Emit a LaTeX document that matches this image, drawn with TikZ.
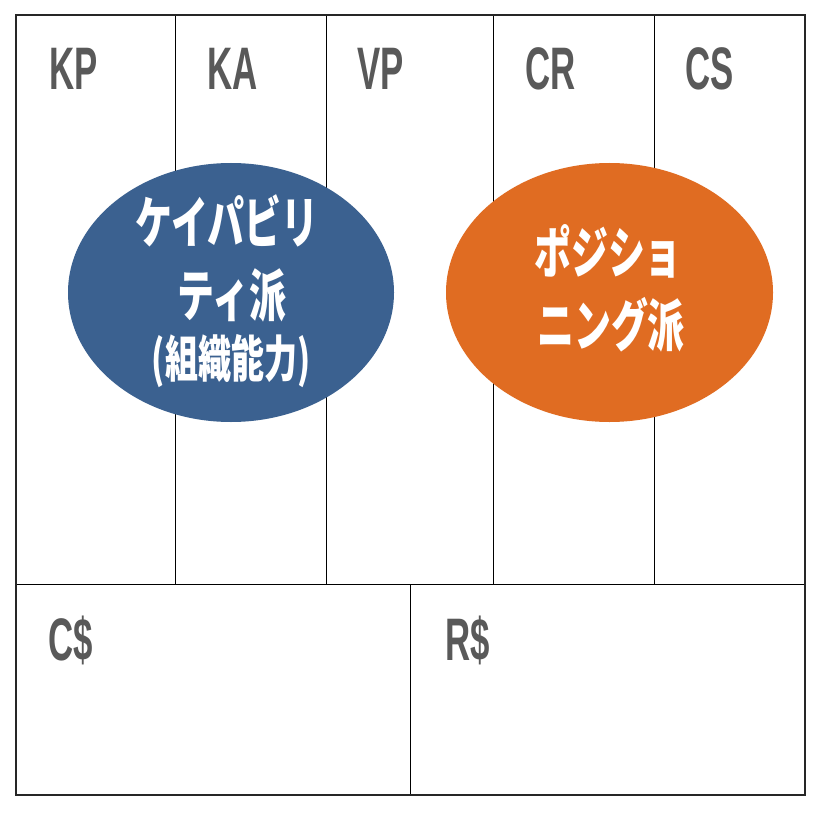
\documentclass[tikz,border=0pt]{standalone}
\usepackage{fontspec}
\setmainfont{Liberation Sans}
\newfontfamily\jpfont{Noto Sans CJK JP}
\usetikzlibrary{shapes.geometric}
\definecolor{capblue}{RGB}{59,97,144}
\definecolor{posorange}{RGB}{224,108,34}
\definecolor{labelgray}{RGB}{89,89,89}
\tikzset{
  grid/.style={draw=black, line width=0.9pt},
  frame/.style={draw=black!85, line width=1.4pt},
  blocklabel/.style={inner sep=0pt, anchor=base west, text=labelgray, font=\fontsize{60}{60}\selectfont\bfseries},
  blob/.style={ellipse, draw=none, inner sep=0pt},
  jptext/.style={inner sep=0pt, anchor=base, text=white, font=\jpfont\bfseries\fontsize{56}{56}\selectfont},
  jpsmall/.style={jptext, font=\jpfont\bfseries\fontsize{50}{50}\selectfont}
}
\newcommand{\narrow}[1]{\scalebox{0.58}[1]{#1}}
\newcommand{\jpnarrow}[1]{\scalebox{0.66}[1]{#1}}
\begin{document}
\begin{tikzpicture}[x=1pt,y=-1pt]
\useasboundingbox[fill=white] (0,0) rectangle (821,821);
% coordinates of the canvas grid
\coordinate (tl) at (16,15);
\coordinate (br) at (805,795);
\coordinate (ml) at (16,584);
\coordinate (mr) at (805,584);
\foreach \x/\n in {175/a,326/b,493/c,654/d}{
  \coordinate (t\n) at (\x,15);
  \coordinate (b\n) at (\x,584);
}
\coordinate (cst) at (410,584);
\coordinate (csb) at (410,795);
% grid lines
\draw[grid] (ml) -- (mr);
\draw[grid] (ta) -- (ba);
\draw[grid] (tb) -- (bb);
\draw[grid] (tc) -- (bc);
\draw[grid] (td) -- (bd);
\draw[grid] (cst) -- (csb);
\draw[frame] (tl) rectangle (br);
% labels
\node[blocklabel] (kp) at (49,90) {\narrow{KP}};
\node[blocklabel] (ka) at (207,90) {\narrow{KA}};
\node[blocklabel] (vp) at (357,90) {\narrow{VP}};
\node[blocklabel] (cr) at (525,90) {\narrow{CR}};
\node[blocklabel] (cs) at (685,90) {\narrow{CS}};
\node[blocklabel] (cost) at (48,660) {\narrow{C\$}};
\node[blocklabel] (rev) at (445,660) {\narrow{R\$}};
% ellipses
\node[blob, fill=capblue, minimum width=326pt, minimum height=259pt] (cap) at (231,292.5) {};
\node[blob, fill=posorange, minimum width=327pt, minimum height=259pt] (pos) at (609.5,292.5) {};
% texts
\node[jptext] (cap1) at (227,243) {\jpnarrow{ケイパビリ}};
\node[jptext] (cap2) at (232,316) {\jpnarrow{ティ派}};
\node[jpsmall] (cap3) at (231,377) {\jpnarrow{(組織能力)}};
\node[jptext] (pos1) at (608,273) {\jpnarrow{ポジショ}};
\node[jptext] (pos2) at (611,346) {\jpnarrow{ニング派}};
\end{tikzpicture}
\end{document}
